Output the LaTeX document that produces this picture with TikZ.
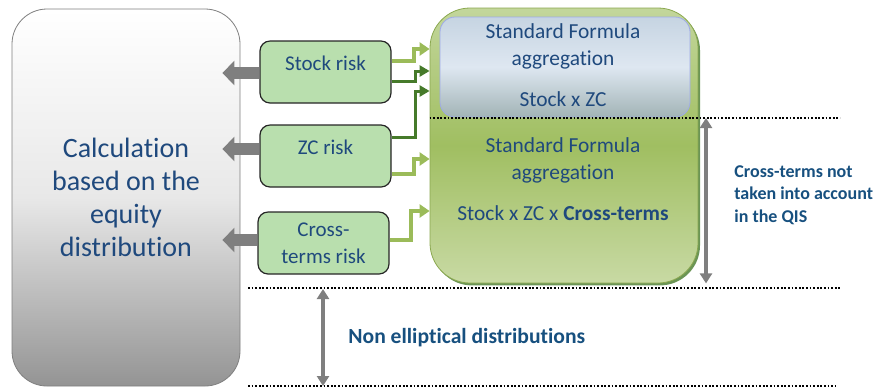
\documentclass[tikz,border=0pt]{standalone}
\usepackage{fontspec}
\setmainfont{Carlito}[Ligatures=NoCommon]
\usetikzlibrary{arrows.meta, calc, shadows}

\definecolor{txtblue}{HTML}{1F497D}
\definecolor{boldblue}{HTML}{17507F}
\definecolor{riskfill}{HTML}{B9DFAE}
\definecolor{lightgreen}{HTML}{9BBB59}
\definecolor{darkgreen}{HTML}{467A2A}
\definecolor{arrowgray}{HTML}{7F7F7F}
\definecolor{glasstop}{HTML}{C6D4E2}
\definecolor{glassmid}{HTML}{DEE7F1}
\definecolor{glassbot}{HTML}{A2B4B6}

\tikzset{
	riskbox/.style={draw=black!85, fill=riskfill, rounded corners=5pt,
		minimum width=65.5pt, minimum height=31pt, align=center,
		font=\fontsize{10.5}{13.5}\selectfont, text=txtblue, line width=0.6pt},
	backarrow/.style={draw=arrowgray, line width=6pt, shorten >=-9pt,
		-{Triangle[width=12pt,length=6pt]}},
	lightfeed/.style={draw=lightgreen, line width=2pt,
		-{Triangle[width=6.5pt,length=5pt]}},
	darkfeed/.style={draw=darkgreen, line width=1.5pt,
		-{Triangle[width=5.5pt,length=5pt]}},
	dotline/.style={line width=0.9pt, dash pattern=on 0.9pt off 0.9pt},
	gapspan/.style={draw=arrowgray, line width=2pt,
		{Triangle[width=6pt,length=5pt]}-{Triangle[width=6pt,length=5pt]}},
	sftext/.style={text=txtblue, align=center, font=\fontsize{10.7}{13.5}\selectfont},
	note/.style={text=boldblue, align=left, inner sep=0pt}
}

\begin{document}
\begin{tikzpicture}[x=0.5pt, y=-0.5pt]
	\useasboundingbox (0,0) rectangle (883,388);

	% left block
	\node[draw=arrowgray, rounded corners=17.5pt, minimum width=114pt, minimum height=188.5pt,
		top color=white, bottom color=black!42, middle color=black!9,
		text=txtblue, align=center, font=\fontsize{14}{16.5}\selectfont] (equitycalc) at (126,197.5)
		{Calculation\\based on the\\equity\\distribution};

	% risk modules
	\node[riskbox, text height=7.5pt, text depth=9.5pt] (stock) at (325.5,72) {Stock risk};
	\node[riskbox, text height=7.5pt, text depth=9.5pt] (zc)    at (325.5,156) {ZC risk};
	\node[riskbox] (cross) at (323.5,243) {Cross-\\terms risk};

	% aggregation blocks
	\node[draw=lightgreen!90!black, rounded corners=20pt, minimum width=134pt, minimum height=137.5pt,
		top color=lightgreen!60, bottom color=lightgreen!55, middle color=lightgreen!95,
		drop shadow={shadow xshift=1pt, shadow yshift=-1.2pt, fill=darkgreen!80, opacity=1}]
		(sfagg) at (564,145.5) {};
	\node[draw=glasstop!80!blue, rounded corners=7.5pt, minimum width=125pt, minimum height=50pt,
		top color=glasstop, bottom color=glassbot, middle color=glassmid]
		(sfcorr) at (565,67) {};

	\node[sftext] (sfupper) at (563,46) {Standard Formula\\aggregation};
	\node[sftext] (stockzc) at (563,99) {Stock x ZC};
	\node[sftext] (sflower) at (563,160) {Standard Formula\\aggregation};
	\node[sftext] (stockzccross) at (563,213) {Stock x ZC x \textbf{Cross-terms}};

	% results back to the left block
	\draw[backarrow] (stock.west |- 0,73) -- (equitycalc.east |- 0,73);
	\draw[backarrow] (zc.west |- 0,149) -- (equitycalc.east |- 0,149);
	\draw[backarrow] (cross.west |- 0,240) -- (equitycalc.east |- 0,240);

	% feeds into the aggregation
	\draw[lightfeed] (stock.east |- 0,61) -- ++(22,0) |- (sfagg.west |- 0,49);
	\draw[darkfeed]  (stock.east |- 0,81) -- ++(24,0) |- (sfagg.west |- 0,71);
	\draw[darkfeed]  (zc.east |- 0,137) -- ++(24,0) |- (sfagg.west |- 0,91);
	\draw[lightfeed] (zc.east |- 0,174) -- ++(22,0) |- (sfagg.west |- 0,159);
	\draw[lightfeed] (cross.east |- 0,240) -- ++(21,0) |- (sfagg.west |- 0,211);

	% separations
	\coordinate (dotAend) at (840,118);
	\coordinate (dotBstart) at (248,288);
	\coordinate (dotBend) at (840,288);
	\coordinate (dotCstart) at (248,386);
	\coordinate (dotCend) at (836,386);
	\draw[dotline] (sfagg.west |- dotAend) -- (dotAend);
	\draw[dotline] (dotBstart) -- (dotBend);
	\draw[dotline] (dotCstart) -- (dotCend);

	\coordinate (qistop) at (706,118);
	\draw[gapspan] (qistop) -- (qistop |- sfagg.south);
	\coordinate (ellitop) at (323,289);
	\draw[gapspan] (ellitop) -- (ellitop |- dotCstart);

	\node[note, anchor=west, font=\bfseries\fontsize{9}{11.3}\selectfont] (qisnote) at (734,195)
		{Cross-terms not\\taken into account\\in the QIS};
	\node[note, anchor=west, font=\bfseries\fontsize{10.8}{13}\selectfont] (ellinote) at (348,338)
		{Non elliptical distributions};
\end{tikzpicture}
\end{document}
